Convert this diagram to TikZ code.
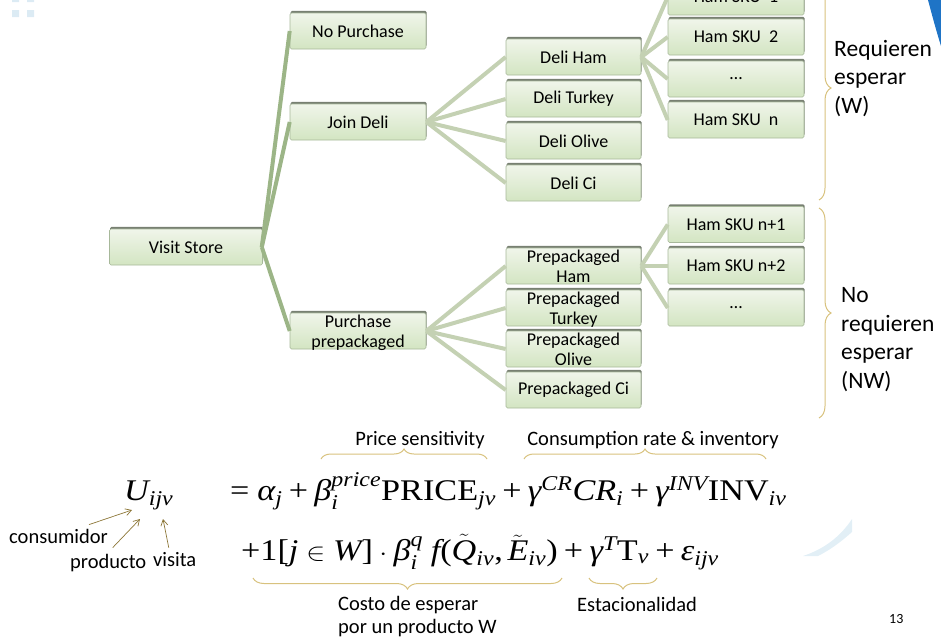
\documentclass[tikz,border=0pt]{standalone}
\usepackage{amsmath}
\usepackage{graphicx}
\usepackage[no-math]{fontspec}
\setmainfont{Carlito}
\newfontfamily\tmsfont[NFSSFamily=tmsf]{Liberation Serif}
\DeclareSymbolFont{tmsit}{TU}{tmsf}{m}{it}
\DeclareSymbolFont{tmsup}{TU}{tmsf}{m}{n}
\DeclareMathAlphabet{\mathtup}{TU}{tmsf}{m}{n}
% Times letters in math
\count255=`a \loop \Umathcode\count255="7 \symtmsit \count255 \ifnum\count255<`z \advance\count255 1 \repeat
\count255=`A \loop \Umathcode\count255="7 \symtmsit \count255 \ifnum\count255<`Z \advance\count255 1 \repeat
\Umathcode`1="0 \symtmsup `1
\Umathcode`+="2 \symtmsup `+
\Umathcode`=="3 \symtmsup `=
\Umathcode`(="4 \symtmsup `(
\Umathcode`)="5 \symtmsup `)
\Umathcode`[="4 \symtmsup `[
\Umathcode`]="5 \symtmsup `]
\Umathcode`,="6 \symtmsup `,
\Umathchardef\alpha="0 \symtmsit "03B1
\Umathchardef\beta="0 \symtmsit "03B2
\Umathchardef\gamma="0 \symtmsit "03B3
\Umathchardef\varepsilon="0 \symtmsit "03B5
\newcommand{\wideeq}[1]{\scalebox{1.14}[1]{$#1$}}
\usetikzlibrary{decorations.pathreplacing,arrows.meta,shadows,calc}

\definecolor{boxtop}{RGB}{240,245,234}
\definecolor{boxbot}{RGB}{211,229,194}
\definecolor{boxline}{RGB}{167,184,154}
\definecolor{boxshade}{RGB}{120,128,114}
\definecolor{linedark}{RGB}{156,181,135}
\definecolor{linelight}{RGB}{196,209,179}
\definecolor{bracecol}{RGB}{216,194,126}
\definecolor{arrowcol}{RGB}{140,118,55}
\definecolor{decoblue}{RGB}{226,239,246}
\definecolor{decosq}{RGB}{220,235,244}
\definecolor{slideblue}{RGB}{31,116,198}

\begin{document}
\begin{tikzpicture}[x=1pt,y=1pt,yscale=-1,
  box/.style={draw=boxline, line width=0.6pt, rounded corners=1.5pt, top color=boxtop, bottom color=boxbot,
    minimum width=136pt, minimum height=36pt, inner sep=1pt, font=\fontsize{18}{20}\selectfont, align=center,
    drop shadow={shadow xshift=0.6pt, shadow yshift=2.2pt, opacity=1, fill=boxshade}},
  twoline/.style={text height=33pt, text depth=1pt},
  trunk/.style={draw=linedark, line width=4pt},
  twig/.style={draw=linelight, line width=4pt},
  gbrace/.style={draw=bracecol, line width=1pt, decorate, decoration={brace, amplitude=#1}},
  note/.style={font=\fontsize{20.5}{23}\selectfont, inner sep=0pt},
  big/.style={font=\fontsize{23.5}{28.5}\selectfont, align=left, inner sep=0pt},
  eqn/.style={font=\fontsize{30}{34}\selectfont, inner sep=0pt, anchor=base west},
  pointer/.style={draw=arrowcol, line width=0.7pt, -{Straight Barb[length=6pt, width=7pt]}},
]
\useasboundingbox (0,0) rectangle (941,643);
\clip (0,0) rectangle (941,643);

%Shape: slide decoration
\fill[decosq] (12,-5) rectangle (19,2) (27,-5) rectangle (34,2) (12,10) rectangle (19,17) (27,10) rectangle (34,17);
\fill[slideblue] (928,0) .. controls (932,15) and (936,30) .. (941,46) -- (941,0) -- cycle;
\fill[decoblue] (852,519) .. controls (840,537) and (824,549) .. (803,556) -- (818,556) .. controls (832,549) and (843,540) .. (852,532) -- cycle;

%Shape: Rectangle (decision tree)
\node[box, minimum width=153pt] (vs) at (186,247) {Visit Store};
\node[box] (np) at (358,31) {No Purchase};
\node[box] (jd) at (358,122) {Join Deli};
\node[box, twoline] (pp) at (358,331) {Purchase\\prepackaged};

\node[box, minimum width=135pt] (dham) at (573.5,57) {Deli Ham};
\node[box, minimum width=135pt] (dtur) at (573.5,99) {Deli Turkey};
\node[box, minimum width=135pt] (doli) at (573.5,141) {Deli Olive};
\node[box, minimum width=135pt] (dci) at (573.5,183) {Deli Ci};

\node[box, minimum width=135pt, twoline] (pham) at (573.5,266) {Prepackaged\\Ham};
\node[box, minimum width=135pt, twoline] (ptur) at (573.5,308) {Prepackaged\\Turkey};
\node[box, minimum width=135pt, twoline] (poli) at (573.5,349) {Prepackaged\\Olive};
\node[box, minimum width=135pt] (pci) at (573.5,390) {Prepackaged Ci};

\node[box] (sku1) at (736,-3) {Ham SKU~~1};
\node[box] (sku2) at (736,37) {Ham SKU~~2};
\node[box] (skud) at (736,79) {…};
\node[box] (skun) at (736,120) {Ham SKU~~n};

\node[box] (skua) at (736,224.5) {Ham SKU n+1};
\node[box] (skub) at (736,266) {Ham SKU n+2};
\node[box] (skuc) at (736,308) {…};

%Straight Lines
\draw[trunk] ([xshift=-1pt]vs.east) -- (np.west);
\draw[trunk] ([xshift=-1pt]vs.east) -- (jd.west);
\draw[trunk] ([xshift=-1pt]vs.east) -- (pp.west);
\foreach \n in {dham,dtur,doli,dci} \draw[twig] (jd.east) -- (\n.west);
\foreach \n in {pham,ptur,poli,pci} \draw[twig] (pp.east) -- (\n.west);
\foreach \n in {sku1,sku2,skud,skun} \draw[twig] (dham.east) -- (\n.west);
\foreach \n in {skua,skub,skuc} \draw[twig] (pham.east) -- (\n.west);

%Braces
\draw[gbrace=12] (819,-24) -- (819,200);
\draw[gbrace=12] (819,208) -- (819,418);
\node[big, anchor=base west] (wait) at (834,113) {Requieren\\esperar\\(W)};
\node[big, anchor=base west] (nowait) at (841,388) {No\\requieren\\esperar\\(NW)};

% Text Node (utility)
\node[eqn] (util) at (124,500) {\wideeq{U_{ijv}}};
\node[eqn] (rowa) at (230,500) {\wideeq{=\alpha_j+\beta_i^{price}\mathtup{PRICE}_{jv}+\gamma^{CR}CR_i+\gamma^{INV}\mathtup{INV}_{iv}}};
\node[eqn] (rowb) at (241,560) {\wideeq{+1[j\in W]\cdot\beta_i^{q}\ f(\tilde{Q}_{iv},\tilde{E}_{iv})+\gamma^{T}\mathtup{T}_v+\varepsilon_{ijv}}};

\draw[gbrace=10] (321,459) -- (487,459);
\draw[gbrace=10] (524,459) -- (766,459);
\draw[gbrace=11] (562,578) -- (253,578);
\draw[gbrace=11] (657,578) -- (589,578);
\node[note, anchor=base] (price) at (420,445) {Price sensitivity};
\node[note, anchor=base] (cons) at (653,445) {Consumption rate \& inventory};
\node[note, anchor=base west, align=left] (wcost) at (338,633) {Costo de esperar\\por un producto W};
\node[note, anchor=base west] (season) at (577,611) {Estacionalidad};

% Text Node (subscripts)
\node[note, anchor=base west] (who) at (9,543) {consumidor};
\node[note, anchor=base west] (what) at (70,568) {producto};
\node[note, anchor=base west] (when) at (153,566) {visita};
\coordinate (sub-i) at (132,510);
\coordinate (sub-j) at (140,519);
\coordinate (sub-v) at (163,519);
\draw[pointer] ($(who.north east)+(-19,-4)$) -- (sub-i);
\draw[pointer] ($(what.north)+(4.5,-6)$) -- (sub-j);
\draw[pointer] ($(when.north)+(-6,-4)$) -- (sub-v);

\node[font=\fontsize{14}{16}\selectfont, anchor=base west, inner sep=0pt] (page) at (889,623) {13};
\end{tikzpicture}
\end{document}
